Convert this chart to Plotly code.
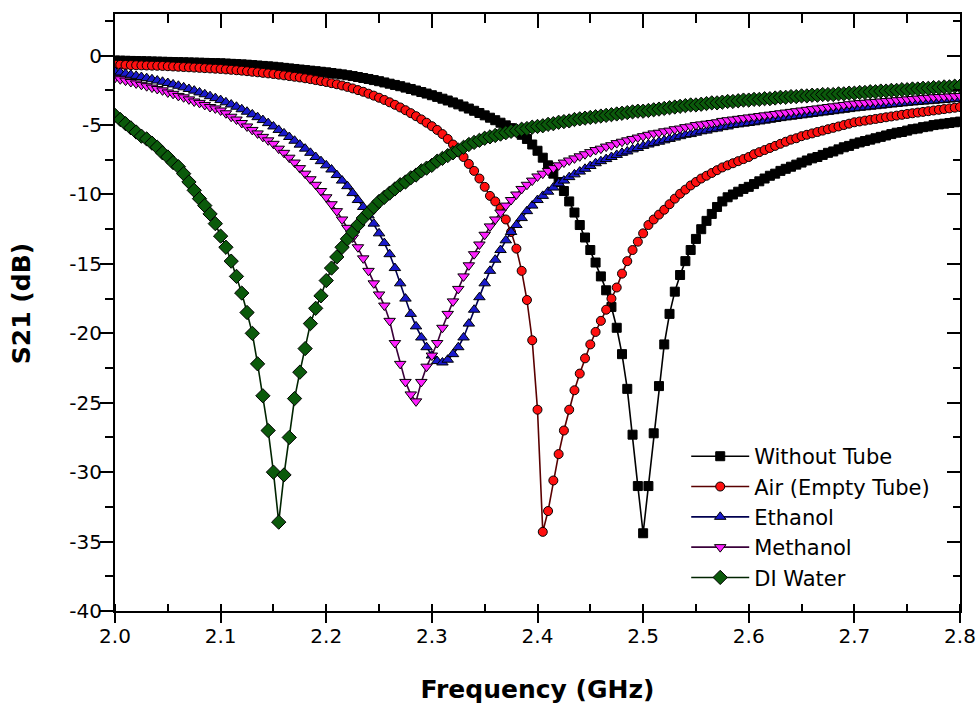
import plotly.graph_objects as go

FREQ_GHZ = [
    2.000, 2.005, 2.010, 2.015, 2.020, 2.025, 2.030, 2.035, 2.040, 2.045,
    2.050, 2.055, 2.060, 2.065, 2.070, 2.075, 2.080, 2.085, 2.090, 2.095,
    2.100, 2.105, 2.110, 2.115, 2.120, 2.125, 2.130, 2.135, 2.140, 2.145,
    2.150, 2.155, 2.160, 2.165, 2.170, 2.175, 2.180, 2.185, 2.190, 2.195,
    2.200, 2.205, 2.210, 2.215, 2.220, 2.225, 2.230, 2.235, 2.240, 2.245,
    2.250, 2.255, 2.260, 2.265, 2.270, 2.275, 2.280, 2.285, 2.290, 2.295,
    2.300, 2.305, 2.310, 2.315, 2.320, 2.325, 2.330, 2.335, 2.340, 2.345,
    2.350, 2.355, 2.360, 2.365, 2.370, 2.375, 2.380, 2.385, 2.390, 2.395,
    2.400, 2.405, 2.410, 2.415, 2.420, 2.425, 2.430, 2.435, 2.440, 2.445,
    2.450, 2.455, 2.460, 2.465, 2.470, 2.475, 2.480, 2.485, 2.490, 2.495,
    2.500, 2.505, 2.510, 2.515, 2.520, 2.525, 2.530, 2.535, 2.540, 2.545,
    2.550, 2.555, 2.560, 2.565, 2.570, 2.575, 2.580, 2.585, 2.590, 2.595,
    2.600, 2.605, 2.610, 2.615, 2.620, 2.625, 2.630, 2.635, 2.640, 2.645,
    2.650, 2.655, 2.660, 2.665, 2.670, 2.675, 2.680, 2.685, 2.690, 2.695,
    2.700, 2.705, 2.710, 2.715, 2.720, 2.725, 2.730, 2.735, 2.740, 2.745,
    2.750, 2.755, 2.760, 2.765, 2.770, 2.775, 2.780, 2.785, 2.790, 2.795,
    2.800,
]

S21_WITHOUT_TUBE = [
    -0.35, -0.36, -0.37, -0.38, -0.39, -0.40, -0.41, -0.42, -0.43, -0.44,
    -0.45, -0.46, -0.47, -0.48, -0.49, -0.50, -0.51, -0.52, -0.53, -0.54,
    -0.55, -0.57, -0.59, -0.61, -0.63, -0.65, -0.68, -0.71, -0.74, -0.77,
    -0.80, -0.84, -0.88, -0.92, -0.96, -1.00, -1.04, -1.08, -1.12, -1.16,
    -1.20, -1.25, -1.30, -1.35, -1.41, -1.47, -1.54, -1.61, -1.68, -1.76,
    -1.84, -1.93, -2.02, -2.11, -2.20, -2.30, -2.40, -2.51, -2.62, -2.73,
    -2.85, -2.97, -3.10, -3.23, -3.37, -3.51, -3.66, -3.81, -3.97, -4.13,
    -4.30, -4.47, -4.65, -4.83, -5.02, -5.22, -5.44, -5.70, -6.00, -6.40,
    -6.85, -7.35, -7.90, -8.50, -9.10, -9.75, -10.5, -11.3, -12.2, -13.1,
    -14.0, -14.9, -15.9, -16.9, -18.1, -19.6, -21.5, -24.0, -27.3, -31.0,
    -34.4, -31.0, -27.2, -23.8, -20.8, -18.6, -17.0, -15.8, -14.8, -14.0,
    -13.2, -12.5, -11.9, -11.4, -10.9, -10.5, -10.2, -10.0, -9.80, -9.60,
    -9.45, -9.25, -9.05, -8.85, -8.65, -8.50, -8.30, -8.15, -8.00, -7.85,
    -7.70, -7.55, -7.40, -7.30, -7.15, -7.00, -6.90, -6.75, -6.60, -6.50,
    -6.35, -6.25, -6.15, -6.05, -5.95, -5.85, -5.75, -5.65, -5.55, -5.50,
    -5.40, -5.30, -5.25, -5.15, -5.10, -5.00, -4.95, -4.90, -4.85, -4.80,
    -4.75,
]

S21_AIR = [
    -0.65, -0.66, -0.67, -0.68, -0.69, -0.70, -0.71, -0.72, -0.73, -0.74,
    -0.76, -0.78, -0.80, -0.82, -0.84, -0.86, -0.88, -0.90, -0.92, -0.94,
    -0.96, -0.99, -1.02, -1.05, -1.08, -1.12, -1.16, -1.20, -1.24, -1.28,
    -1.32, -1.37, -1.42, -1.47, -1.52, -1.57, -1.63, -1.69, -1.76, -1.83,
    -1.90, -1.98, -2.06, -2.15, -2.25, -2.36, -2.48, -2.60, -2.74, -2.88,
    -3.03, -3.19, -3.36, -3.54, -3.73, -3.93, -4.14, -4.36, -4.59, -4.83,
    -5.08, -5.35, -5.65, -6.00, -6.40, -6.85, -7.30, -7.80, -8.30, -8.85,
    -9.45, -10.1, -10.5, -11.0, -11.8, -12.7, -13.9, -15.5, -17.6, -20.5,
    -25.5, -34.3, -32.8, -30.6, -28.7, -27.0, -25.5, -24.1, -22.9, -21.8,
    -20.8, -19.9, -19.1, -18.3, -17.5, -16.7, -15.7, -14.8, -14.0, -13.4,
    -12.8, -12.2, -11.8, -11.45, -11.1, -10.7, -10.3, -9.95, -9.65, -9.35,
    -9.10, -8.85, -8.65, -8.45, -8.25, -8.05, -7.90, -7.75, -7.60, -7.45,
    -7.30, -7.10, -6.95, -6.80, -6.65, -6.50, -6.35, -6.20, -6.05, -5.95,
    -5.80, -5.70, -5.60, -5.50, -5.40, -5.30, -5.20, -5.10, -5.00, -4.90,
    -4.80, -4.74, -4.68, -4.62, -4.56, -4.50, -4.44, -4.38, -4.32, -4.26,
    -4.20, -4.15, -4.10, -4.05, -4.00, -3.95, -3.90, -3.85, -3.80, -3.75,
    -3.70,
]

S21_ETHANOL = [
    -1.15, -1.22, -1.30, -1.38, -1.46, -1.54, -1.62, -1.70, -1.79, -1.88,
    -1.97, -2.07, -2.17, -2.28, -2.40, -2.52, -2.65, -2.78, -2.92, -3.06,
    -3.20, -3.36, -3.52, -3.68, -3.86, -4.04, -4.23, -4.43, -4.64, -4.86,
    -5.10, -5.35, -5.60, -5.86, -6.13, -6.41, -6.70, -7.00, -7.30, -7.60,
    -7.90, -8.20, -8.60, -9.00, -9.40, -9.90, -10.4, -10.9, -11.5, -12.1,
    -12.8, -13.5, -14.3, -15.3, -16.4, -17.5, -18.6, -19.5, -20.3, -21.0,
    -21.6, -22.0, -22.1, -21.9, -21.5, -21.0, -20.3, -19.3, -18.3, -17.4,
    -16.4, -15.5, -14.7, -14.0, -13.3, -12.7, -12.2, -11.7, -11.2, -10.8,
    -10.4, -10.1, -9.80, -9.50, -9.20, -9.00, -8.75, -8.55, -8.35, -8.15,
    -7.95, -7.75, -7.60, -7.45, -7.30, -7.15, -7.00, -6.90, -6.75, -6.65,
    -6.50, -6.40, -6.30, -6.20, -6.10, -6.00, -5.90, -5.80, -5.70, -5.65,
    -5.55, -5.45, -5.40, -5.30, -5.25, -5.15, -5.10, -5.00, -4.95, -4.90,
    -4.85, -4.80, -4.74, -4.68, -4.62, -4.56, -4.50, -4.45, -4.40, -4.35,
    -4.30, -4.25, -4.20, -4.15, -4.10, -4.05, -4.00, -3.95, -3.90, -3.85,
    -3.80, -3.76, -3.72, -3.68, -3.64, -3.60, -3.56, -3.52, -3.48, -3.44,
    -3.40, -3.37, -3.34, -3.31, -3.28, -3.25, -3.22, -3.19, -3.16, -3.13,
    -3.10,
]

S21_METHANOL = [
    -1.60, -1.70, -1.80, -1.90, -2.00, -2.10, -2.20, -2.30, -2.40, -2.50,
    -2.65, -2.75, -2.90, -3.00, -3.15, -3.30, -3.40, -3.55, -3.70, -3.80,
    -3.95, -4.15, -4.40, -4.60, -4.85, -5.10, -5.35, -5.60, -5.85, -6.10,
    -6.35, -6.70, -7.00, -7.35, -7.70, -8.10, -8.50, -8.90, -9.30, -9.75,
    -10.2, -10.7, -11.2, -11.8, -12.4, -13.1, -13.8, -14.6, -15.5, -16.4,
    -17.2, -18.0, -19.1, -20.7, -22.2, -23.5, -24.4, -24.9, -23.5, -22.4,
    -21.6, -20.7, -19.6, -18.6, -17.7, -16.8, -15.9, -15.1, -14.3, -13.6,
    -12.9, -12.3, -11.8, -11.3, -10.8, -10.4, -10.0, -9.60, -9.30, -9.00,
    -8.70, -8.50, -8.30, -8.10, -7.90, -7.70, -7.55, -7.40, -7.25, -7.10,
    -6.95, -6.80, -6.70, -6.55, -6.45, -6.30, -6.20, -6.10, -6.00, -5.90,
    -5.80, -5.70, -5.60, -5.55, -5.45, -5.40, -5.30, -5.25, -5.15, -5.10,
    -5.00, -4.95, -4.90, -4.85, -4.80, -4.70, -4.65, -4.60, -4.55, -4.50,
    -4.45, -4.40, -4.35, -4.30, -4.25, -4.20, -4.15, -4.10, -4.05, -4.00,
    -3.95, -3.90, -3.85, -3.80, -3.75, -3.70, -3.65, -3.60, -3.55, -3.50,
    -3.45, -3.42, -3.39, -3.36, -3.33, -3.30, -3.27, -3.24, -3.21, -3.18,
    -3.15, -3.12, -3.09, -3.06, -3.03, -3.00, -2.98, -2.96, -2.94, -2.92,
    -2.90,
]

S21_DI_WATER = [
    -4.30, -4.60, -4.90, -5.20, -5.50, -5.80, -6.00, -6.30, -6.60, -7.00,
    -7.30, -7.70, -8.00, -8.50, -9.10, -9.70, -10.3, -10.8, -11.4, -12.1,
    -13.0, -13.8, -14.8, -15.9, -17.1, -18.5, -20.0, -22.2, -24.5, -27.0,
    -30.0, -33.6, -30.2, -27.5, -24.7, -22.8, -21.1, -19.3, -18.2, -17.3,
    -16.2, -15.3, -14.5, -13.8, -13.2, -12.7, -12.2, -11.7, -11.3, -10.9,
    -10.5, -10.2, -9.90, -9.60, -9.30, -9.10, -8.80, -8.60, -8.30, -8.10,
    -7.90, -7.60, -7.40, -7.20, -7.00, -6.80, -6.60, -6.40, -6.25, -6.10,
    -5.95, -5.85, -5.75, -5.65, -5.55, -5.45, -5.40, -5.30, -5.25, -5.15,
    -5.10, -5.05, -4.95, -4.90, -4.80, -4.75, -4.70, -4.60, -4.55, -4.50,
    -4.45, -4.40, -4.35, -4.30, -4.25, -4.20, -4.15, -4.10, -4.05, -4.00,
    -4.00, -3.95, -3.90, -3.85, -3.80, -3.75, -3.70, -3.65, -3.60, -3.55,
    -3.55, -3.50, -3.45, -3.40, -3.40, -3.35, -3.30, -3.30, -3.25, -3.20,
    -3.20, -3.15, -3.15, -3.10, -3.10, -3.05, -3.00, -3.00, -2.95, -2.95,
    -2.90, -2.90, -2.85, -2.85, -2.80, -2.80, -2.80, -2.75, -2.75, -2.70,
    -2.70, -2.65, -2.65, -2.60, -2.60, -2.55, -2.55, -2.50, -2.50, -2.45,
    -2.45, -2.40, -2.40, -2.35, -2.35, -2.30, -2.30, -2.25, -2.25, -2.20,
    -2.20,
]

SERIES_NAMES = ["Without Tube", "Air (Empty Tube)", "Ethanol", "Methanol", "DI Water"]
X_TICK_VALUES = [2.0, 2.1, 2.2, 2.3, 2.4, 2.5, 2.6, 2.7, 2.8]
X_TICK_LABELS = ["2.0", "2.1", "2.2", "2.3", "2.4", "2.5", "2.6", "2.7", "2.8"]
Y_TICK_VALUES = [-40, -35, -30, -25, -20, -15, -10, -5, 0]
Y_TICK_LABELS = ["-40", "-35", "-30", "-25", "-20", "-15", "-10", "-5", "0"]
X_TITLE = "Frequency (GHz)"
Y_TITLE = "S21 (dB)"

series_values = [S21_WITHOUT_TUBE, S21_AIR, S21_ETHANOL, S21_METHANOL, S21_DI_WATER]
fills = ["#000000", "#ff1010", "#1a1acc", "#ff20ff", "#0b5a0b"]
lines = ["#000000", "#5a0000", "#000050", "#3a003a", "#002400"]
symbols = ["square", "circle", "triangle-up", "triangle-down", "diamond"]
sizes = [9, 9, 10, 10, 11]

FONT = "DejaVu Sans"

fig = go.Figure()
for name, vals, fc, lc, sym, sz in zip(SERIES_NAMES, series_values, fills, lines, symbols, sizes):
    fig.add_trace(go.Scatter(
        x=FREQ_GHZ, y=vals, name=name, mode="lines+markers",
        line=dict(color=lc, width=1.6),
        marker=dict(symbol=sym, size=sz, color=fc, line=dict(color="#000000", width=1)),
    ))

# helper trace so that the mirrored top/right axes are drawn
fig.add_trace(go.Scatter(x=[FREQ_GHZ[0]], y=[Y_TICK_VALUES[0]], xaxis="x2", yaxis="y2",
                         mode="markers", marker=dict(opacity=0), showlegend=False,
                         hoverinfo="skip"))

x_range = [2.0, 2.8]
y_range = [-40, 3]

fig.update_layout(
    template="none",
    width=979, height=704,
    margin=dict(l=115, r=19, t=14, b=93, autoexpand=False),
    paper_bgcolor="white", plot_bgcolor="white",
    font=dict(family=FONT, size=20, color="black"),
    showlegend=True,
    legend=dict(x=0.676, y=0.293, xanchor="left", yanchor="top",
                bgcolor="rgba(0,0,0,0)", borderwidth=0,
                font=dict(family=FONT, size=21, color="black"),
                tracegroupgap=0, itemwidth=58),
    xaxis=dict(
        range=x_range, tickvals=X_TICK_VALUES, ticktext=X_TICK_LABELS, automargin=False,
        showline=True, linecolor="black", linewidth=2,
        ticks="outside", ticklen=10, tickwidth=2, tickcolor="black",
        minor=dict(dtick=0.05, tick0=2.0, ticks="inside", ticklen=7, tickwidth=2, tickcolor="black"),
        showgrid=False, zeroline=False, ticklabelstandoff=-4,
        tickfont=dict(family=FONT, size=20),
        title=dict(text="<b>" + X_TITLE + "</b>", font=dict(family=FONT, size=25), standoff=33),
    ),
    yaxis=dict(
        range=y_range, tickvals=Y_TICK_VALUES, ticktext=Y_TICK_LABELS, automargin=False,
        showline=True, linecolor="black", linewidth=2,
        ticks="outside", ticklen=13, tickwidth=2, tickcolor="black",
        minor=dict(dtick=2.5, tick0=0, ticks="outside", ticklen=8, tickwidth=2, tickcolor="black"),
        showgrid=False, zeroline=False, ticklabelstandoff=-6,
        tickfont=dict(family=FONT, size=20),
    ),
    xaxis2=dict(
        range=x_range, overlaying="x", side="top", tickvals=X_TICK_VALUES, automargin=False,
        showticklabels=False, showline=True, linecolor="black", linewidth=2,
        ticks="inside", ticklen=14, tickwidth=2, tickcolor="black",
        minor=dict(dtick=0.05, tick0=2.0, ticks="inside", ticklen=9, tickwidth=2, tickcolor="black"),
        showgrid=False, zeroline=False,
    ),
    yaxis2=dict(
        range=y_range, overlaying="y", side="right", anchor="x2", tickvals=Y_TICK_VALUES,
        automargin=False,
        showticklabels=False, showline=True, linecolor="black", linewidth=2,
        ticks="inside", ticklen=13, tickwidth=2, tickcolor="black",
        minor=dict(dtick=2.5, tick0=0, ticks="inside", ticklen=7, tickwidth=2, tickcolor="black"),
        showgrid=False, zeroline=False,
    ),
    annotations=[dict(
        text="<b>" + Y_TITLE + "</b>", textangle=-90, showarrow=False,
        xref="paper", yref="paper", x=0, y=0.514, xanchor="center", yanchor="middle",
        xshift=-94, font=dict(family=FONT, size=25, color="black"),
    )],
)

fig.write_html("out.html", config={"displayModeBar": False},
               post_script="document.body.style.margin='0px';document.body.style.overflow='hidden';")
